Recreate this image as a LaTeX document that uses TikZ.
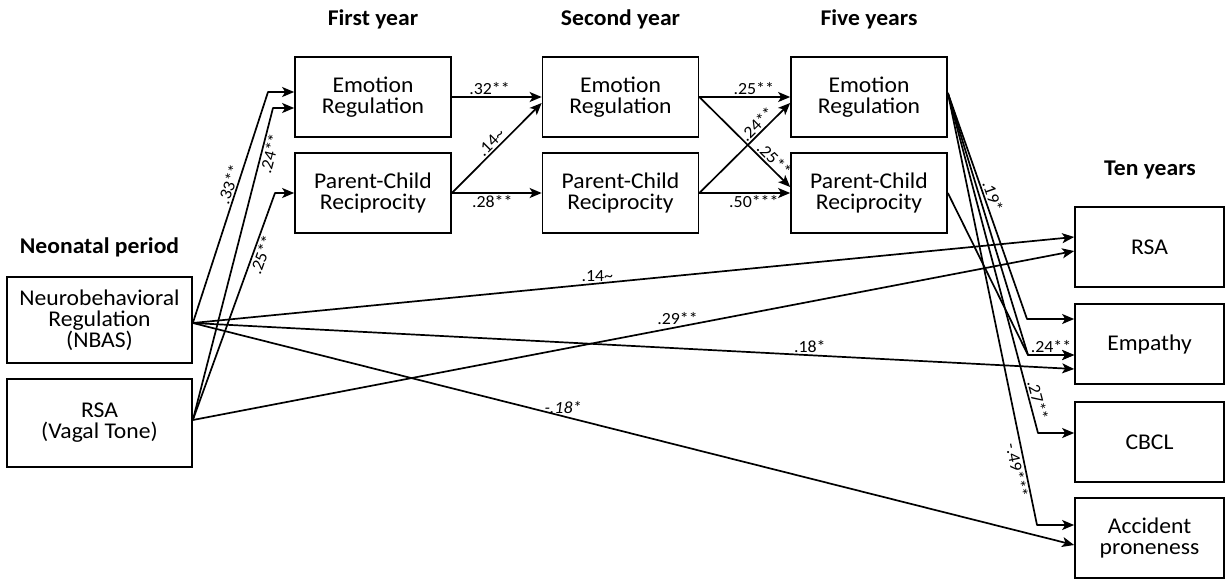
\documentclass[tikz,border=0pt]{standalone}
\usepackage{fontspec}
\setmainfont{Carlito}[FakeStretch=1.05]
\usetikzlibrary{arrows.meta,calc}
\begin{document}
\begin{tikzpicture}[x=1pt,y=-1pt,
  box/.style={draw, line width=1.7pt, inner sep=0pt, align=center, font=\fontsize{22.5}{21}\selectfont},
  midbox/.style={box, minimum width=156pt, minimum height=80pt},
  neobox/.style={box, minimum width=185pt},
  tenbox/.style={box, minimum width=149pt, minimum height=80pt},
  hdr/.style={font=\fontsize{22.5}{24}\selectfont\bfseries, inner sep=0pt},
  lbl/.style={font=\fontsize{17}{18}\selectfont, inner sep=1.5pt},
  arr/.style={line width=1.7pt, -{Stealth[length=12pt,width=10pt,inset=3pt]}, line join=round},
]
\useasboundingbox (0,0) rectangle (1229,579);

% headers
\node[hdr] (hneo) at (99.5,247) {Neonatal period};
\node[hdr] (h1) at (373,19) {First year};
\node[hdr] (h2) at (620.5,19) {Second year};
\node[hdr] (h5) at (869,19) {Five years};
\node[hdr] (h10) at (1150,170) {Ten years};

% neonatal
\node[neobox, minimum height=86pt] (nbas) at (99.5,320) {Neurobehavioral\\Regulation\\(NBAS)};
\node[neobox, minimum height=88pt] (rsan) at (99.5,423) {RSA\\(Vagal Tone)};

% first, second, five years
\node[midbox] (er1) at (373,97) {Emotion\\Regulation};
\node[midbox] (pcr1) at (373,193) {Parent-Child\\Reciprocity};
\node[midbox] (er2) at (620.5,97) {Emotion\\Regulation};
\node[midbox] (pcr2) at (620.5,193) {Parent-Child\\Reciprocity};
\node[midbox] (er5) at (869,97) {Emotion\\Regulation};
\node[midbox] (pcr5) at (869,193) {Parent-Child\\Reciprocity};

% ten years
\node[tenbox] (rsa10) at (1149.5,247) {RSA};
\node[tenbox] (emp) at (1149.5,344) {Empathy};
\node[tenbox] (cbcl) at (1149.5,442) {CBCL};
\node[tenbox] (acc) at (1149.5,538) {Accident\\proneness};

% bend points
\coordinate (c1) at (268,92);
\coordinate (c2) at (273,108);
\coordinate (c3) at (275,193);
\coordinate (b15) at (1027,319);
\coordinate (b16) at (1028,355);
\coordinate (b18) at (1038,433);
\coordinate (b19) at (1037,525);

% neonatal -> first year
\draw[arr] ($(nbas.east)+(0,3)$) -- node[lbl,sloped,above,pos=0.59]{.33**} (c1) -- (c1 -| er1.west);
\draw[arr] ($(rsan.east)+(0,-3)$) -- node[lbl,sloped,below,pos=0.86]{.24**} (c2) -- (c2 -| er1.west);
\draw[arr] ($(rsan.east)+(0,-3)$) -- node[lbl,sloped,below,pos=0.74]{.25**} (c3) -- (pcr1.west);

% first -> second
\draw[arr] (er1.east) -- node[lbl,above,pos=0.42]{.32**} (er2.west);
\draw[arr] (pcr1.east) -- node[lbl,sloped,above,pos=0.5]{.14\textasciitilde} ($(er2.west)+(0,6)$);
\draw[arr] (pcr1.east) -- node[lbl,below,pos=0.45]{.28**} (pcr2.west);

% second -> five
\draw[arr] (er2.east) -- node[lbl,above,pos=0.6]{.25**} (er5.west);
\draw[arr] (er2.east) -- node[lbl,sloped,above,pos=0.76]{.25**} ($(pcr5.west)+(0,-6)$);
\draw[arr] (pcr2.east) -- node[lbl,sloped,above,pos=0.7]{.24**} ($(er5.west)+(0,6)$);
\draw[arr] (pcr2.east) -- node[lbl,below,pos=0.6]{.50***} (pcr5.west);

% neonatal -> ten years
\draw[arr] ($(nbas.east)+(0,3)$) -- node[lbl,above,pos=0.459]{.14\textasciitilde} ($(rsa10.west)+(0,-10)$);
\draw[arr] ($(rsan.east)+(0,-3)$) -- node[lbl,above,pos=0.55]{.29**} ($(rsa10.west)+(0,4)$);
\draw[arr] ($(nbas.east)+(0,3)$) -- node[lbl,above,pos=0.70]{.18*} ($(emp.west)+(0,25)$);
\draw[arr] ($(nbas.east)+(0,3)$) -- node[lbl,above,pos=0.42,font=\fontsize{17}{18}\selectfont\itshape]{-.18*} ($(acc.west)+(0,7)$);

% five -> ten years
\draw[arr] ($(er5.east)+(0,-4)$) -- node[lbl,sloped,above,pos=0.47]{.19*} (b15) -- (b15 -| emp.west);
\draw[arr] ($(er5.east)+(0,-4)$) -- (b16) -- (b16 -| emp.west);
\draw[arr] (pcr5.east) -- (b16) -- node[lbl,above,pos=0.5]{.24**} (b16 -| emp.west);
\draw[arr] ($(er5.east)+(0,-4)$) -- node[lbl,sloped,above,pos=0.91]{.27**} (b18) -- (b18 -| cbcl.west);
\draw[arr] ($(er5.east)+(0,-4)$) -- node[lbl,sloped,below,pos=0.87]{-.49***} (b19) -- (b19 -| acc.west);
\end{tikzpicture}
\end{document}
